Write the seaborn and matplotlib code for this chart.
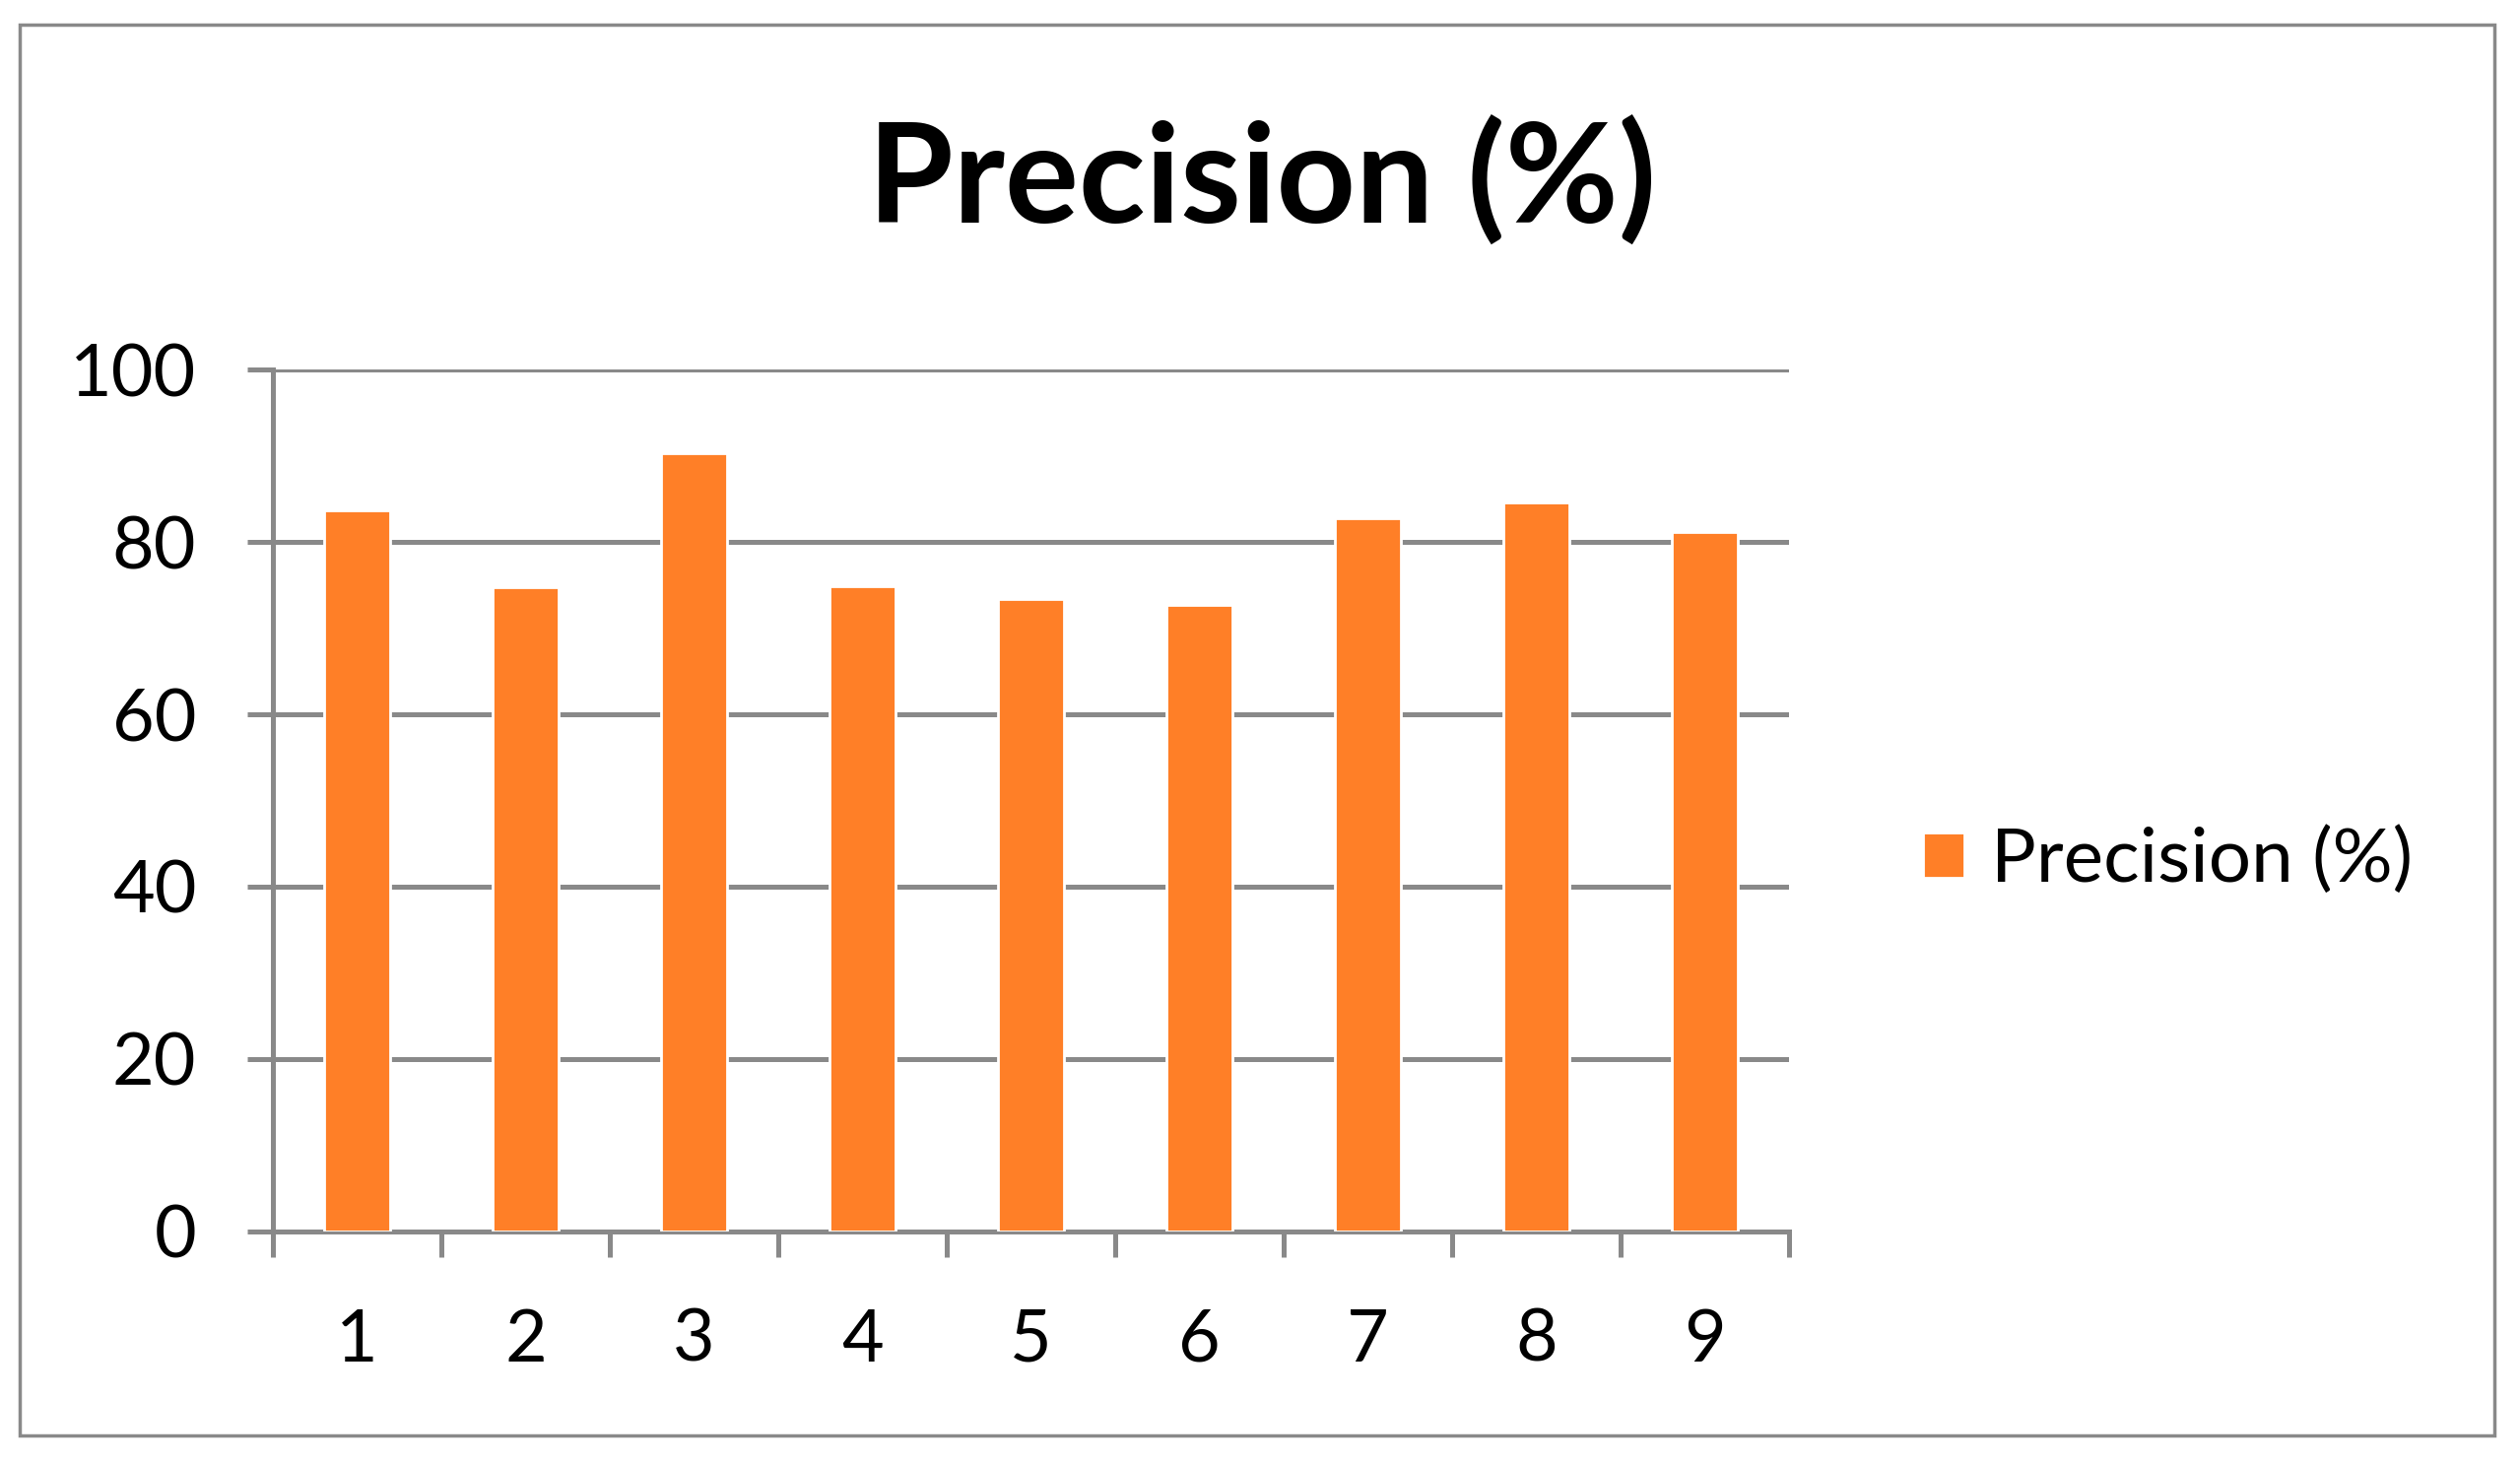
import matplotlib
matplotlib.use("Agg")
import matplotlib.pyplot as plt
import seaborn as sns
import pandas as pd
from matplotlib.patches import Rectangle

categorias = ['1', '2', '3', '4', '5', '6', '7', '8', '9']
precisao = [83.7, 74.7, 90.3, 74.9, 73.4, 72.7, 82.7, 84.6, 81.2]
rotulo = 'Precision (%)'

cinza = '#898989'
laranja = '#FF7F27'

sns.set_style('white')
plt.rcParams['font.family'] = ['Lato', 'DejaVu Sans']
plt.rcParams['text.color'] = 'black'
plt.rcParams['xtick.labelcolor'] = 'black'
plt.rcParams['ytick.labelcolor'] = 'black'

df = pd.DataFrame({'cat': categorias, 'val': precisao})

fig = plt.figure(figsize=(25.58, 14.87), dpi=100)
ax = fig.add_axes([0.1083, 0.1594, 0.710 - 0.1083, 0.7478 - 0.1594])

sns.barplot(data=df, x='cat', y='val', color=laranja, width=0.39,
            saturation=1, edgecolor='white', linewidth=2, label=rotulo,
            ax=ax, zorder=3)

ax.set_ylim(0, 100)
ax.set_xlim(-0.5, 8.5)
ax.set_yticks([0, 20, 40, 60, 80, 100])
ax.yaxis.grid(True, color=cinza, linewidth=3.6, zorder=0)
ax.set_axisbelow(True)
ax.set_xlabel('')
ax.set_ylabel('')

for lado in ['top', 'right']:
    ax.spines[lado].set_visible(False)
for lado in ['left', 'bottom']:
    ax.spines[lado].set_color(cinza)
    ax.spines[lado].set_linewidth(3.6)

ax.tick_params(axis='y', length=19, width=3.6, color=cinza, pad=37,
               labelsize=53, left=True, labelcolor='black')
ax.tick_params(axis='x', which='major', length=0, pad=56, labelsize=53,
               labelcolor='black')
ax.set_xticks([i - 0.5 for i in range(10)], minor=True)
ax.tick_params(axis='x', which='minor', length=19, width=3.6, color=cinza,
               bottom=True)

fig.text(0.5008, 0.877, rotulo, ha='center', va='center',
         fontsize=101, fontweight='bold', color='black')

ax.legend(loc='center left', bbox_to_anchor=(0.763, 0.413),
          bbox_transform=fig.transFigure, frameon=False, fontsize=55,
          handlelength=0.55, handleheight=0.55, handletextpad=0.35,
          borderpad=0, borderaxespad=0, labelcolor='black')

fig.patches.append(Rectangle((0.008, 0.02), 0.982, 0.963,
                             transform=fig.transFigure, fill=False,
                             edgecolor=cinza, linewidth=2.5))

fig.savefig('out.png', dpi=100)
